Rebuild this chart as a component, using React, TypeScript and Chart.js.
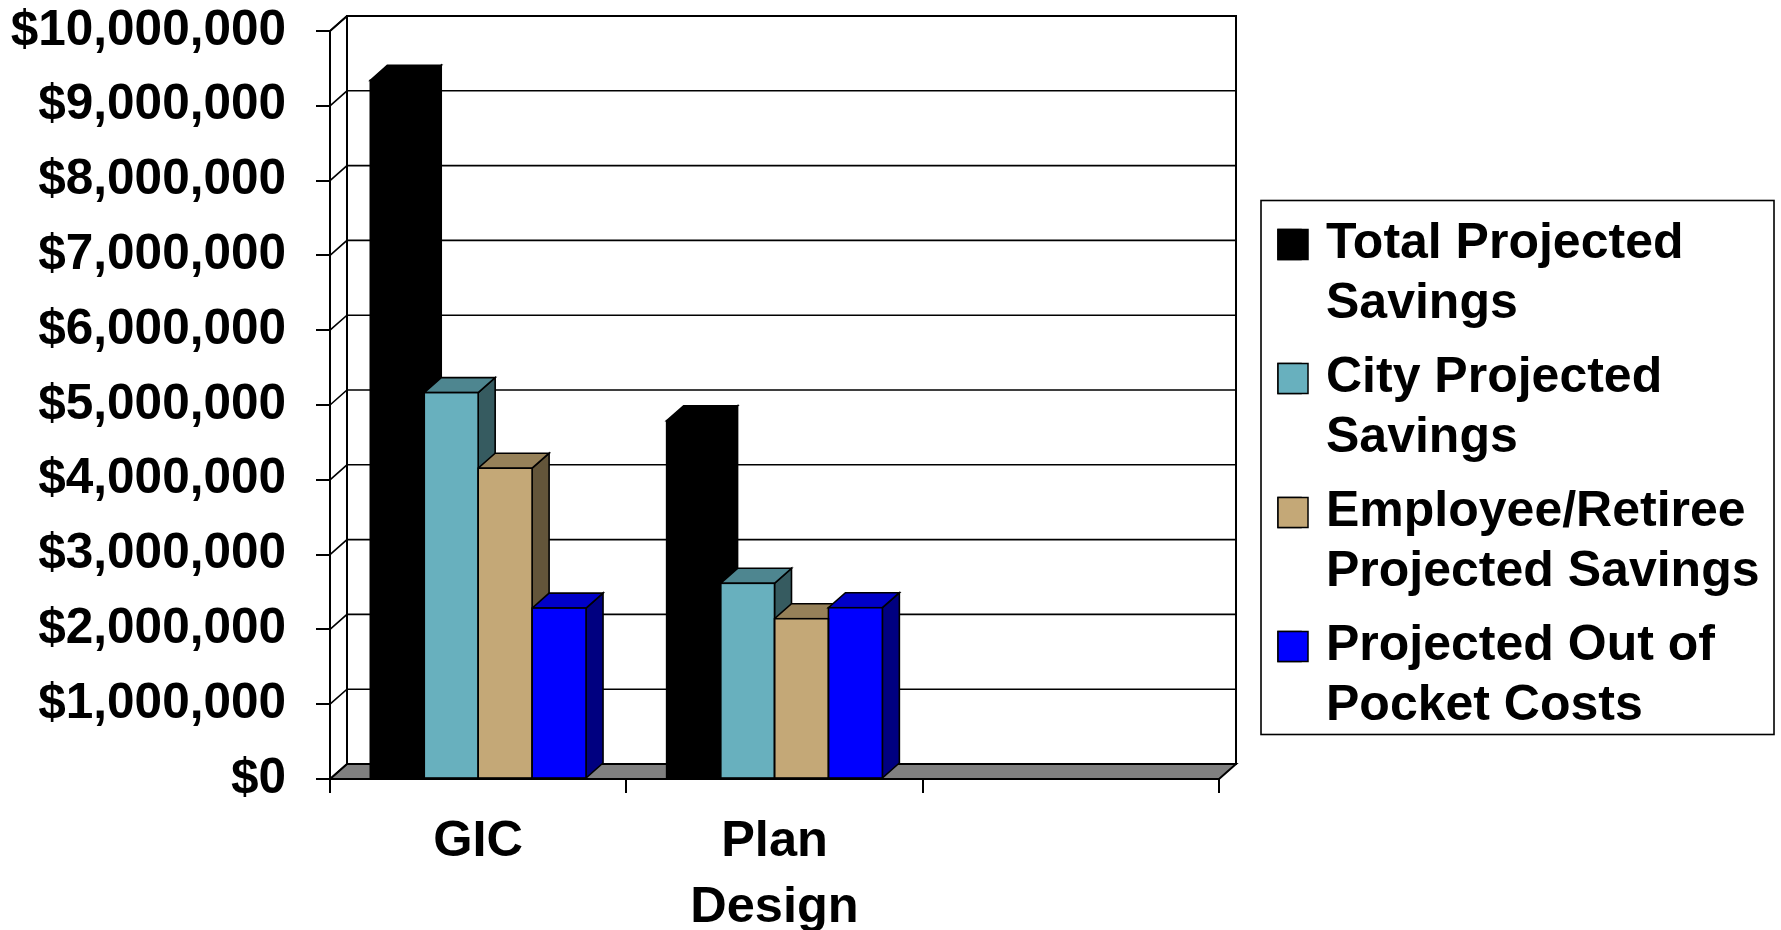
import React, { useEffect, useRef } from 'react';
import { Chart, registerables } from 'chart.js';

Chart.register(...registerables);

// ---------- data ----------
const categories: (string | string[])[] = ['GIC', ['Plan', 'Design'], ''];
const seriesNames = [
  'Total Projected Savings',
  'City Projected Savings',
  'Employee/Retiree Projected Savings',
  'Projected Out of Pocket Costs',
];
const legendLines = [
  ['Total Projected', 'Savings'],
  ['City Projected', 'Savings'],
  ['Employee/Retiree', 'Projected Savings'],
  ['Projected Out of', 'Pocket Costs'],
];
const totalSavings = [9340000, 4790000, null];
const citySavings = [5165000, 2616000, null];
const employeeSavings = [4155000, 2143000, null];
const outOfPocket = [2285000, 2290000, null];
const yMin = 0;
const yMax = 10000000;
const yStep = 1000000;

// ---------- styles ----------
const frontColors = ['#000000', '#68B0BE', '#C4A877', '#0000FF'];
const topColors = ['#000000', '#4E8690', '#968159', '#0000C8'];
const sideColors = ['#000000', '#365B60', '#63553A', '#000080'];
const DX = 17;
const DY = 15;
const FONT = "'Liberation Sans', Arial, sans-serif";
const LEGEND_FONT_SIZE = 50;
const MARKER = 30;

const fmtMoney = (v: number) => '$' + Math.round(v).toLocaleString('en-US');

const bars3d = {
  id: 'bars3d',
  beforeDatasetsDraw(chart: any) {
    const { ctx, chartArea, scales } = chart;
    const { left: L, right: R, top: T, bottom: B } = chartArea;
    const y = scales.y;
    ctx.save();
    ctx.lineJoin = 'miter';
    ctx.strokeStyle = '#000';
    // back wall
    ctx.fillStyle = '#fff';
    ctx.fillRect(L + DX, T - DY, R - L, B - T);
    // floor
    ctx.beginPath();
    ctx.moveTo(L, B);
    ctx.lineTo(R, B);
    ctx.lineTo(R + DX, B - DY);
    ctx.lineTo(L + DX, B - DY);
    ctx.closePath();
    ctx.fillStyle = '#808080';
    ctx.fill();
    ctx.lineWidth = 2;
    ctx.stroke();
    // gridlines on side wall + back wall
    ctx.lineWidth = 1.6;
    y.ticks.forEach((t: any) => {
      const py = y.getPixelForValue(t.value);
      ctx.beginPath();
      ctx.moveTo(L, py);
      ctx.lineTo(L + DX, py - DY);
      ctx.lineTo(R + DX, py - DY);
      ctx.stroke();
    });
    ctx.lineWidth = 2;
    ctx.strokeRect(L + DX, T - DY, R - L, B - T);
    ctx.beginPath();
    ctx.moveTo(L, T);
    ctx.lineTo(L + DX, T - DY);
    ctx.stroke();

    // 3D top & side faces, left to right
    const n = chart.data.labels.length;
    ctx.lineWidth = 1.6;
    for (let i = 0; i < n; i++) {
      chart.data.datasets.forEach((ds: any, d: number) => {
        if (ds.data[i] == null) return;
        const el = chart.getDatasetMeta(d).data[i];
        if (!el) return;
        const p = el.getProps(['x', 'y', 'base', 'width'], true);
        const x1 = p.x - p.width / 2;
        const x2 = p.x + p.width / 2;
        const yt = p.y;
        const yb = p.base;
        // side
        ctx.beginPath();
        ctx.moveTo(x2, yt);
        ctx.lineTo(x2 + DX, yt - DY);
        ctx.lineTo(x2 + DX, yb - DY);
        ctx.lineTo(x2, yb);
        ctx.closePath();
        ctx.fillStyle = sideColors[d];
        ctx.fill();
        ctx.stroke();
        // top
        ctx.beginPath();
        ctx.moveTo(x1, yt);
        ctx.lineTo(x2, yt);
        ctx.lineTo(x2 + DX, yt - DY);
        ctx.lineTo(x1 + DX, yt - DY);
        ctx.closePath();
        ctx.fillStyle = topColors[d];
        ctx.fill();
        ctx.stroke();
      });
    }
    ctx.restore();
  },
  afterDatasetsDraw(chart: any) {
    const { ctx } = chart;
    ctx.save();
    ctx.strokeStyle = '#000';
    ctx.lineWidth = 1.6;
    chart.data.datasets.forEach((ds: any, d: number) => {
      chart.getDatasetMeta(d).data.forEach((el: any, i: number) => {
        if (ds.data[i] == null) return;
        const p = el.getProps(['x', 'y', 'base', 'width'], true);
        ctx.strokeRect(p.x - p.width / 2, p.y, p.width, p.base - p.y);
      });
    });
    ctx.restore();
  },
  afterDraw(chart: any) {
    const lg = chart.legend;
    if (!lg || !lg.legendHitBoxes || !lg.legendHitBoxes.length) return;
    const hb = lg.legendHitBoxes;
    const first = hb[0];
    const last = hb[hb.length - 1];
    const ctx = chart.ctx;
    ctx.save();
    ctx.strokeStyle = '#000';
    // full-size legend markers
    ctx.lineWidth = 1.5;
    hb.forEach((h: any, i: number) => {
      const top = h.top + (LEGEND_FONT_SIZE - MARKER) / 2;
      ctx.fillStyle = frontColors[i];
      ctx.fillRect(h.left, top, MARKER, MARKER);
      ctx.strokeRect(h.left, top, MARKER, MARKER);
    });
    // legend frame
    ctx.lineWidth = 1.6;
    const left = first.left - 17;
    const top = first.top - 19;
    const right = left + 513;
    const bottom = last.top + last.height - 7;
    ctx.strokeRect(left, top, right - left, bottom - top);
    ctx.restore();
  },
};

export default function App() {
  const ref = useRef<HTMLCanvasElement | null>(null);
  useEffect(() => {
    document.body.style.margin = '0';
    const canvas = ref.current;
    if (!canvas) return;
    const seriesValues = [totalSavings, citySavings, employeeSavings, outOfPocket];
    const chart = new Chart(canvas, {
      type: 'bar',
      data: {
        labels: categories as any,
        datasets: seriesValues.map((vals, d) => ({
          label: seriesNames[d],
          data: vals as any,
          backgroundColor: frontColors[d],
          borderWidth: 0,
          categoryPercentage: 0.728,
          barPercentage: 1.0,
          yAxisID: 'y',
        })),
      },
      options: {
        responsive: false,
        animation: false,
        devicePixelRatio: 1,
        layout: { padding: { top: 31, right: 11.5, bottom: 0, left: 0 } },
        plugins: {
          tooltip: { enabled: false },
          legend: {
            position: 'right',
            align: 'center',
            maxWidth: 700,
            labels: {
              color: '#000',
              boxWidth: 23,
              boxHeight: MARKER,
              padding: 14,
              font: { family: FONT, size: LEGEND_FONT_SIZE, weight: 'bold', lineHeight: '60px' } as any,
              generateLabels: (ch: any) =>
                ch.data.datasets.map((ds: any, d: number) => ({
                  text: legendLines[d] as any,
                  fillStyle: frontColors[d],
                  strokeStyle: '#000',
                  lineWidth: 1.5,
                  hidden: false,
                  datasetIndex: d,
                  fontColor: '#000',
                })),
            },
          },
        },
        scales: {
          x: {
            type: 'category',
            offset: true,
            grid: {
              offset: true,
              drawOnChartArea: false,
              drawTicks: true,
              tickLength: 14,
              color: '#000',
              lineWidth: 2,
            },
            border: { display: true, color: '#000', width: 2 },
            ticks: {
              color: '#000',
              padding: 16,
              maxRotation: 0,
              autoSkip: false,
              font: { family: FONT, size: 50.5, weight: 'bold', lineHeight: '66px' } as any,
            },
            afterFit: (s: any) => {
              s.height = 151;
              s.paddingLeft = 0;
              s.paddingRight = 0;
            },
          },
          y: {
            type: 'linear',
            position: 'left',
            min: yMin,
            max: yMax,
            grid: {
              drawOnChartArea: false,
              drawTicks: true,
              tickLength: 14,
              color: '#000',
              lineWidth: 2,
            },
            border: { display: true, color: '#000', width: 2 },
            ticks: {
              stepSize: yStep,
              color: '#000',
              padding: 30,
              font: { family: FONT, size: 49.5, weight: 'bold' },
              callback: (v: any) => fmtMoney(Number(v)),
            },
            afterFit: (s: any) => {
              s.width = 330;
              s.paddingTop = 0;
              s.paddingBottom = 0;
            },
          },
          yR: {
            type: 'linear',
            position: 'right',
            display: true,
            grid: { display: false, drawTicks: false },
            border: { display: false },
            ticks: { display: false },
            afterFit: (s: any) => {
              s.width = 45;
              s.paddingTop = 0;
              s.paddingBottom = 0;
            },
          },
        },
      },
      plugins: [bars3d],
    } as any);
    return () => chart.destroy();
  }, []);

  return (
    <div style={{ position: 'absolute', left: 0, top: 0, width: 1781, height: 930, background: '#fff' }}>
      <canvas ref={ref} width={1781} height={930} style={{ display: 'block' }} />
    </div>
  );
}
